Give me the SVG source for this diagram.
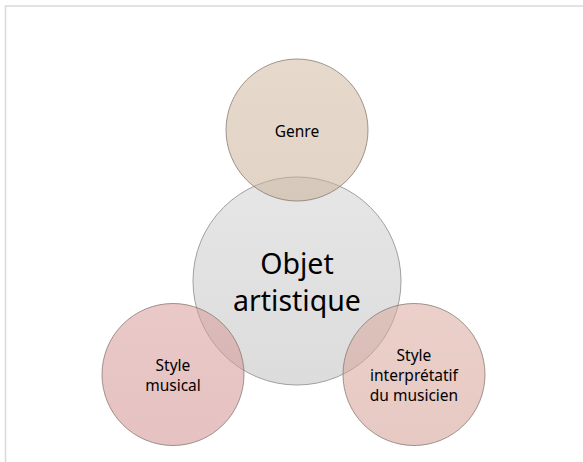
<svg xmlns="http://www.w3.org/2000/svg" width="583" height="462" viewBox="0 0 583 462">
  <defs>
    <linearGradient id="gCenter" x1="0" y1="0" x2="0" y2="1">
      <stop offset="0" stop-color="#e6e6e6"/>
      <stop offset="1" stop-color="#dcdcdc"/>
    </linearGradient>
    <linearGradient id="gGenre" x1="0" y1="0" x2="0" y2="1">
      <stop offset="0" stop-color="#d2bba3"/>
      <stop offset="1" stop-color="#c9b096"/>
    </linearGradient>
    <linearGradient id="gMusical" x1="0" y1="0" x2="0" y2="1">
      <stop offset="0" stop-color="#d99c9c"/>
      <stop offset="1" stop-color="#d18f8f"/>
    </linearGradient>
    <linearGradient id="gInterp" x1="0" y1="0" x2="0" y2="1">
      <stop offset="0" stop-color="#dba89d"/>
      <stop offset="1" stop-color="#d39d92"/>
    </linearGradient>
  </defs>
  <style>
    .frame { fill: none; stroke: #d9d9d9; stroke-width: 1.5; }
    .center { fill: url(#gCenter); stroke: #a0a0a0; stroke-width: 1; }
    .sat { fill-opacity: 0.55; stroke: #7a6f66; stroke-opacity: 0.7; stroke-width: 1; }
    text { font-family: "Noto Sans", "Open Sans", sans-serif; fill: #000; text-anchor: middle; }
    .small { font-size: 15.5px; }
    .big { font-size: 28.5px; }
  </style>
  <rect class="frame" x="5.5" y="6" width="600" height="480"/>
  <g id="connectors"></g>
  <g id="node-center">
    <circle class="center" cx="297" cy="281" r="104"/>
    <text class="big" x="297" y="273.5">Objet</text>
    <text class="big" x="297" y="310.5">artistique</text>
  </g>
  <g id="node-genre">
    <circle class="sat" fill="url(#gGenre)" cx="297" cy="130" r="71"/>
    <text class="small" x="297" y="136.5">Genre</text>
  </g>
  <g id="node-musical">
    <circle class="sat" fill="url(#gMusical)" cx="173" cy="374.5" r="71"/>
    <text class="small" x="173" y="370.5">Style</text>
    <text class="small" x="173" y="390.5">musical</text>
  </g>
  <g id="node-interp">
    <circle class="sat" fill="url(#gInterp)" cx="414" cy="374.5" r="71"/>
    <text class="small" x="414" y="360.5">Style</text>
    <text class="small" x="414" y="380.5">interprétatif</text>
    <text class="small" x="414" y="400.5">du musicien</text>
  </g>
</svg>
